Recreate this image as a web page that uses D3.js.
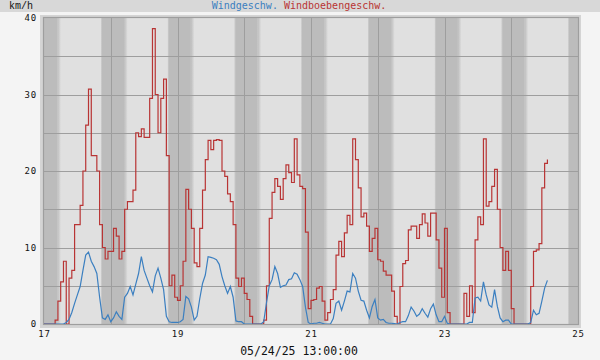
<!DOCTYPE html>
<html><head><meta charset="utf-8">
<script src="https://cdn.jsdelivr.net/npm/d3@7/dist/d3.min.js"></script>
<style>html,body{margin:0;padding:0;background:#f4f4f4}svg{display:block}</style>
</head><body><svg id="c" width="600" height="360"></svg>
<script>
// hourly samples starting 17th 00:00
const startHour = 0;
const gust = [0,0,0,0,0.5,3,5.5,8.2,0,6,7,13,13,15.5,20,26,30.7,22,22,20,13,10,8.5,9.5,
9.5,12.5,11.5,8.5,9.5,15,16,16,17.5,25,24.5,25.5,24.4,24.4,29.5,38.6,30,25,29.5,32,22,5,6.4,3.5,
3.1,5,8.2,17.6,15,12.5,8,7.5,12.5,17.5,21.5,24,22.8,24,24.1,24,20,19.3,17,16,13,6,4.9,6,
4,3.2,1,0,0,0,0,0.5,5,13.8,17.2,19,18,16.3,19,20.8,19.8,18.5,24.2,19.5,18,17.7,12,2,
3.1,3.2,4.7,4.9,3,0.5,1.5,3.2,4.5,9,10.8,8.8,11.9,14.2,13,24.2,21.5,17.8,14,14.5,12.8,9.5,11.2,12.5,
8.4,8.2,6.9,6.4,6.4,4.3,1,0,4.9,7.9,8.3,12.3,12.8,12.8,11.2,13,14.4,13.2,11.5,14.5,14.5,11,7.3,3.5,
12.5,1.5,0,0,0,0,0,4,1,5,1.5,11,14,13,24.2,15.4,16,18,20.2,15,10,7,9.5,7,
2,0,0,0,0,0,0,4.9,9.5,9.7,10.5,17.8,21,21.5];
const wind = [0,0,0,0,0,0,0,0,0.2,0.6,1.5,2.7,3.8,4.9,7,9,9.4,8.2,7.5,6.6,3.5,0.8,0.6,1.2,
0.3,0.8,1.6,1,0.6,3.5,4,4.9,3.8,5.2,6.6,8.8,7,6,5,4.2,6.3,7.3,6,4.5,1,0.3,0.2,0.2,
0.2,0.3,0.6,3.6,3.3,2.2,0.5,1,3.3,5.3,6.4,8.8,8.7,8.6,8.4,7.8,6.2,5,4,4.9,3.5,0.4,0.3,0.3,
0,0,0,0,0,0,0,0.3,2.8,5,5.8,7.5,6.6,4.8,5,5.1,5.8,5.9,6.7,6.5,5.8,4.9,2.2,0.2,
0,0.1,0.1,0.2,0.1,0,0,0,0.7,2.7,3,1.8,3,4.3,4.2,6.6,6,4.3,3.1,3,1.8,0.8,2.3,3.2,
0.8,0.5,0.6,0.2,0.1,0.1,0.05,0,0.2,0.3,0.3,1.1,2.2,1.7,1,1.3,2,1.4,0.9,2,2.6,1.2,0.3,0.3,
1,0.1,0,0,0,0,0,0,0,0.2,0.2,3.4,3.5,3,5.5,3.8,2.5,2.2,4.5,2.3,0.8,0.3,0.5,0.5,
0,0,0,0,0,0,0,0.2,1.8,1.2,1.4,3,4.7,5.7];
const xTickHours = [0,48,96,144,192];
const xTickLabels = ["17","19","21","23","25"];
const yTickValues = [0,10,20,30,40];
const seriesNames = ["Windgeschw.","Windboebengeschw."];
const seriesColors = ["#3b7fc0","#b83434"];
const unitLabel = "km/h";
const timestampLabel = "05/24/25 13:00:00";
const nightDays = [-1,0,1,2,3,4,5,6,7];

const X0 = 44, X1 = 578, Y0 = 324, Y1 = 18;
const x = d3.scaleLinear().domain([0,192]).range([X0,X1]);
const y = d3.scaleLinear().domain([0,40]).range([Y0,Y1]);

const svg = d3.select("#c");
svg.append("rect").attr("width",600).attr("height",360).attr("fill","#f4f4f4");
svg.append("rect").attr("width",600).attr("height",12).attr("fill","#d8d8d8");
svg.append("rect").attr("x",40).attr("y",15).attr("width",541).attr("height",313).attr("fill","#d4d4d4");

const defs = svg.append("defs");
defs.append("clipPath").attr("id","clip").append("rect")
  .attr("x",X0).attr("y",Y1).attr("width",X1-X0).attr("height",Y0-Y1);
const gm = defs.append("linearGradient").attr("id","morn");
gm.append("stop").attr("offset","0").attr("stop-color","#bcbcbc");
gm.append("stop").attr("offset","1").attr("stop-color","#e0e0e0");
const ge = defs.append("linearGradient").attr("id","eve");
ge.append("stop").attr("offset","0").attr("stop-color","#e0e0e0");
ge.append("stop").attr("offset","1").attr("stop-color","#bcbcbc");

const plot = svg.append("g").attr("clip-path","url(#clip)");
plot.append("rect").attr("x",X0).attr("y",Y1).attr("width",X1-X0).attr("height",Y0-Y1).attr("fill","#e0e0e0");
const nb = plot.append("g");
nightDays.forEach(k => {
  const s = 24*k + 20.75, e = 24*(k+1) + 4.8;
  nb.append("rect").attr("x",x(s)).attr("y",Y1).attr("width",x(e)-x(s)).attr("height",Y0-Y1).attr("fill","#bcbcbc");
  nb.append("rect").attr("x",x(e)).attr("y",Y1).attr("width",x(e+1.3)-x(e)).attr("height",Y0-Y1).attr("fill","url(#morn)");
  nb.append("rect").attr("x",x(s-0.4)).attr("y",Y1).attr("width",x(s)-x(s-0.4)).attr("height",Y0-Y1).attr("fill","url(#eve)");
});

// grid
const grid = svg.append("g").attr("stroke","#9e9e9e").attr("stroke-width",1);
d3.range(5,40,5).forEach(v => {
  const yy = Math.round(y(v))+0.5;
  grid.append("line").attr("x1",X0).attr("x2",X1).attr("y1",yy).attr("y2",yy);
});
d3.range(24,192,24).forEach(h => {
  const xx = Math.round(x(h))+0.5;
  grid.append("line").attr("x1",xx).attr("x2",xx).attr("y1",Y1).attr("y2",Y0);
});
// border
svg.append("rect").attr("x",X0-0.5).attr("y",Y1-0.5).attr("width",X1-X0+1).attr("height",Y0-Y1+1)
  .attr("fill","none").attr("stroke","#9e9e9e").attr("stroke-width",1.2);

// lines
const lineLin = d3.line().x((d,i)=>x(startHour+i)).y(d=>y(d)).curve(d3.curveLinear);
const lineStep = d3.line().x((d,i)=>x(startHour+i)).y(d=>y(d)).curve(d3.curveStepAfter);
const lg = svg.append("g").attr("clip-path","url(#clip)").attr("fill","none");
lg.append("path").datum(gust).attr("d",lineStep).attr("stroke",seriesColors[1]).attr("stroke-width",1.2);
lg.append("path").datum(wind).attr("d",lineLin).attr("stroke",seriesColors[0]).attr("stroke-width",1.2);

// axes
const mono = "'DejaVu Sans Mono', monospace";
const ya = svg.append("g").attr("transform",`translate(${X0},0)`)
  .call(d3.axisLeft(y).tickValues(yTickValues).tickSize(0).tickPadding(7).tickFormat(d3.format("d")));
ya.select(".domain").remove();
ya.selectAll("text").attr("font-family",mono).attr("font-size",9).attr("fill","#111").attr("letter-spacing",0.8);
const xa = svg.append("g").attr("transform",`translate(0,${Y0})`)
  .call(d3.axisBottom(x).tickValues(xTickHours).tickSize(0).tickPadding(7).tickFormat((d,i)=>xTickLabels[i]));
xa.select(".domain").remove();
xa.selectAll("text").attr("font-family",mono).attr("font-size",9).attr("fill","#111").attr("letter-spacing",0.8);

// texts
svg.append("text").attr("x",9).attr("y",9).attr("font-family","'Liberation Mono', monospace")
  .attr("font-size",10).attr("fill","#111").text(unitLabel);
const t = svg.append("text").attr("x",299).attr("y",9).attr("text-anchor","middle")
  .attr("font-family",mono).attr("font-size",10);
t.append("tspan").attr("fill",seriesColors[0]).text(seriesNames[0]);
t.append("tspan").attr("fill",seriesColors[1]).text(" " + seriesNames[1]);
svg.append("text").attr("x",299).attr("y",355).attr("text-anchor","middle")
  .attr("font-family",mono).attr("font-size",11.5).attr("fill","#111").text(timestampLabel);
</script></body></html>
